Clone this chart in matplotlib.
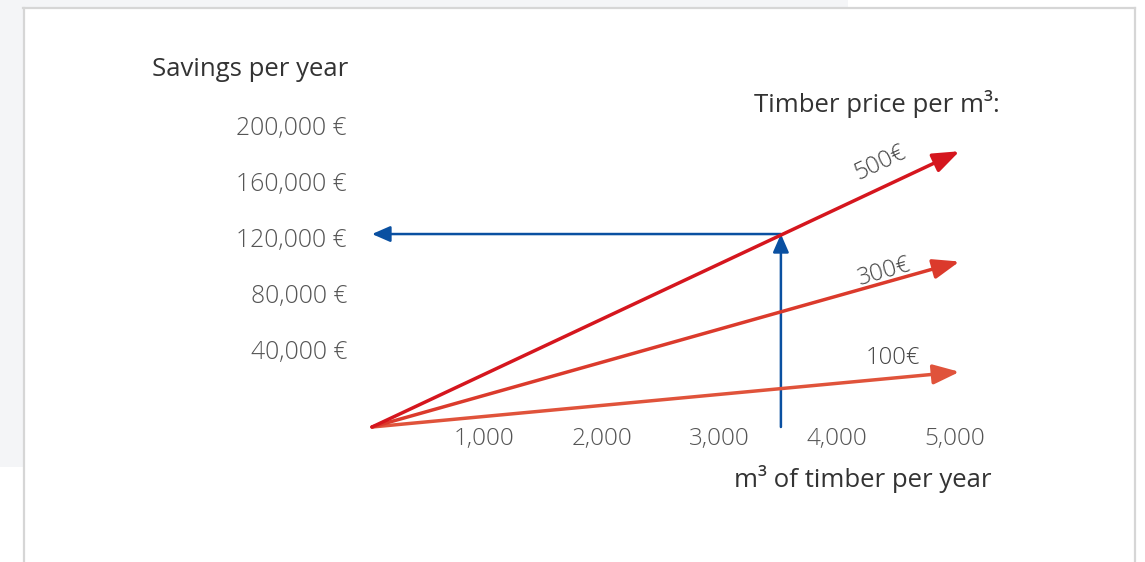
import matplotlib
matplotlib.use("Agg")
import matplotlib.pyplot as plt
from matplotlib.patches import Rectangle
from matplotlib.lines import Line2D
from matplotlib.transforms import ScaledTranslation

plt.rcParams['font.family'] = ['Open Sans', 'DejaVu Sans']

# data
prices = ['100€', '300€', '500€']
end_volume = 5000  # m3 per year
end_savings = [34300, 102900, 171500]  # € per year at 5,000 m3
line_colors = ['#e0533b', '#db3a2c', '#d5161e']
label_pos = [(4434, 42900), (4357, 96400), (4323, 164200)]
label_rot = [0, 16, 25.5]

read_volume = 3480
read_savings = 120000

x_ticks = [1000, 2000, 3000, 4000, 5000]
x_labels = ['1,000', '2,000', '3,000', '4,000', '5,000']
y_ticks = [40000, 80000, 120000, 160000, 200000]
y_labels = ['40,000 €', '80,000 €', '120,000 €', '160,000 €', '200,000 €']

W, H = 1145, 562
fig = plt.figure(figsize=(W / 100, H / 100), dpi=100)
fig.patch.set_facecolor('white')

def fx(px):
    return px / W

def fy(py):
    return 1 - py / H

# page background and card border
bg = '#f4f5f7'
fig.patches.append(Rectangle((0, fy(7)), fx(848), 7 / H, transform=fig.transFigure,
                             facecolor=bg, edgecolor='none', zorder=0))
fig.patches.append(Rectangle((0, fy(467)), fx(23), 467 / H, transform=fig.transFigure,
                             facecolor=bg, edgecolor='none', zorder=0))
bc = '#d6d6d6'
fig.lines.append(Line2D([fx(23), fx(1135)], [fy(8), fy(8)], transform=fig.transFigure, color=bc, lw=1.6))
fig.lines.append(Line2D([fx(23.5), fx(23.5)], [fy(8), 0], transform=fig.transFigure, color=bc, lw=1.6))
fig.lines.append(Line2D([fx(1134.5), fx(1134.5)], [fy(8), 0], transform=fig.transFigure, color=bc, lw=1.6))

# axes: x=0 at px 372, 117.5 px per 1,000 m3; y=0 at px 427, 1.608 px per 1,000 €
left, right, bottom, top = 357, 1000, 427, 100
ax = fig.add_axes([fx(left), fy(bottom), fx(right - left), (bottom - top) / H])
ax.set_xlim(-(372 - left) / 0.1175, (right - 372) / 0.1175)
ax.set_ylim(0, (bottom - top) / 1.608 * 1000)
ax.patch.set_visible(False)
for s in ax.spines.values():
    s.set_visible(False)
ax.set_xticks(x_ticks)
ax.set_xticklabels(x_labels)
ax.set_yticks([])
ax.tick_params(axis='x', length=0, pad=0, labelsize=17.5, labelcolor='#555555')
nudge = ScaledTranslation(-5 / 100, 0, fig.dpi_scale_trans)
for t in ax.get_xticklabels():
    t.set_fontweight('light')
    t.set_transform(t.get_transform() + nudge)

# y labels sit on their own evenly spaced scale, as in the original
ax2 = ax.twinx()
ax2.yaxis.tick_left()
ax2.set_ylim((406 - bottom) / 1.4 * 1000, (406 - top) / 1.4 * 1000)
ax2.set_yticks(y_ticks)
ax2.set_yticklabels(y_labels)
ax2.tick_params(axis='y', length=0, pad=7.2, labelsize=17.8, labelcolor='#555555')
for t in ax2.get_yticklabels():
    t.set_fontweight('light')
for s in ax2.spines.values():
    s.set_visible(False)

# reading arrows
blue = '#0a50a1'
ax.annotate('', xy=(read_volume, read_savings), xytext=(read_volume, 0),
            arrowprops=dict(arrowstyle='-|>,head_length=11,head_width=4.8', mutation_scale=1,
                            lw=1.8, color=blue, shrinkA=0, shrinkB=0), zorder=2)
ax.annotate('', xy=(0, read_savings), xytext=(read_volume, read_savings),
            arrowprops=dict(arrowstyle='-|>,head_length=11,head_width=4.8', mutation_scale=1,
                            lw=1.8, color=blue, shrinkA=0, shrinkB=0), zorder=2)

# price lines
for p, s, c, pos, rot in zip(prices, end_savings, line_colors, label_pos, label_rot):
    ax.annotate('', xy=(end_volume, s), xytext=(0, 0),
                arrowprops=dict(arrowstyle='-|>,head_length=16,head_width=6', mutation_scale=1,
                                lw=2.5, color=c, shrinkA=0, shrinkB=0), zorder=3)
    ax.text(pos[0], pos[1], p, rotation=rot, rotation_mode='anchor', ha='center', va='center',
            fontsize=17, color='#444444', fontweight='light')

fig.text(fx(348), fy(70), 'Savings per year', ha='right', va='center', fontsize=18.5, color='#333333')
fig.text(fx(1000), fy(104), 'Timber price per m³:', ha='right', va='center', fontsize=18.5, color='#333333')
fig.text(fx(992), fy(479), 'm³ of timber per year', ha='right', va='center', fontsize=18.5, color='#333333')

fig.savefig('out.png', dpi=100)
